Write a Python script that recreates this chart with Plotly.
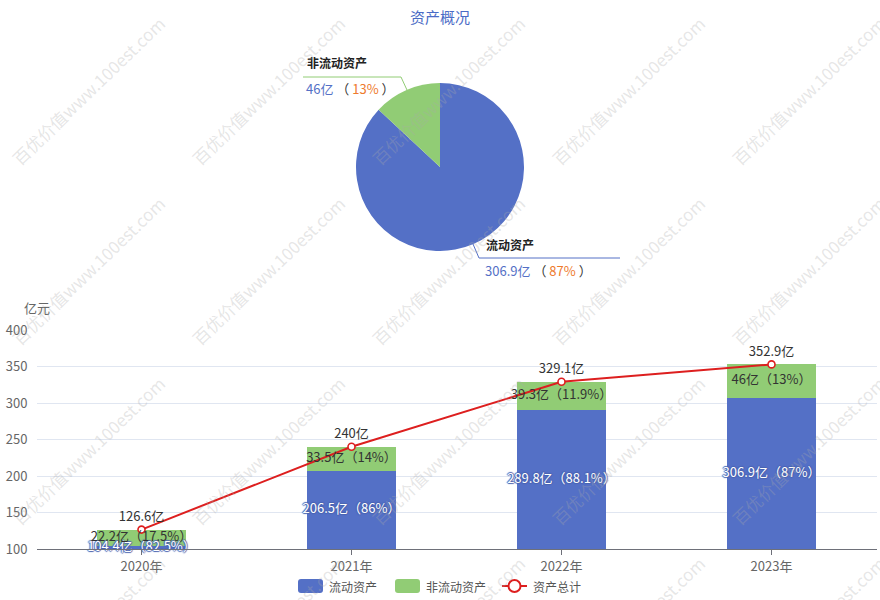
import plotly.graph_objects as go

# ---------------- data ----------------
years = ["2020年", "2021年", "2022年", "2023年"]
current_assets = [104.4, 206.5, 289.8, 306.9]      # 流动资产 (亿)
noncurrent_assets = [22.2, 33.5, 39.3, 46.0]       # 非流动资产 (亿)
total_assets = [126.6, 240.0, 329.1, 352.9]        # 资产总计 (亿)

pie_labels = ["流动资产", "非流动资产"]
pie_values = [306.9, 46.0]
pie_pcts = [87, 13]

y_ticks = [100, 150, 200, 250, 300, 350, 400]

# ---------------- styling ----------------
W, H = 880, 600
BLUE = "#5470c6"
GREEN = "#91cc75"
RED = "#dd1f1f"
ORANGE = "#ee7a2d"
FONT = "Noto Sans CJK SC, Microsoft YaHei, sans-serif"
Y_MIN, Y_MAX = 100, 400


def X(px):
    return px / W


def Y(py):
    return 1 - py / H


def fmt(v):
    return f"{round(v, 1):g}"


fig = go.Figure()

# ---------------- pie ----------------
fig.add_trace(go.Pie(
    labels=pie_labels, values=pie_values,
    sort=False, direction="clockwise", rotation=0,
    textinfo="none", showlegend=False,
    marker=dict(colors=[BLUE, GREEN], line=dict(width=0)),
    domain=dict(x=[X(356), X(524)], y=[Y(251), Y(83)]),
    hovertemplate="%{label}: %{value}亿 (%{percent})<extra></extra>",
))

# ---------------- bars ----------------
fig.add_trace(go.Bar(
    x=years, y=current_assets, name="流动资产",
    marker=dict(color=BLUE, line=dict(width=0)), showlegend=False,
))
fig.add_trace(go.Bar(
    x=years, y=noncurrent_assets, name="非流动资产",
    marker=dict(color=GREEN, line=dict(width=0)), showlegend=False,
))

# total line
fig.add_trace(go.Scatter(
    x=years, y=total_assets, name="资产总计",
    mode="lines+markers+text",
    line=dict(color=RED, width=2),
    marker=dict(symbol="circle", size=7, color="white", line=dict(color=RED, width=1.6)),
    text=[f"{fmt(v)}亿" for v in total_assets],
    textposition="top center",
    textfont=dict(family=FONT, size=13, color="#333"),
    cliponaxis=False, showlegend=False,
))

# bar labels (centred on the visible portion of each segment)
cur_pos, cur_txt, non_pos, non_txt = [], [], [], []
for c, n, t in zip(current_assets, noncurrent_assets, total_assets):
    cur_pos.append((max(0, Y_MIN) + c) / 2)
    cur_txt.append(f"{fmt(c)}亿（{fmt(c / t * 100)}%）")
    non_pos.append((max(c, Y_MIN) + c + n) / 2)
    non_txt.append(f"{fmt(n)}亿（{fmt(n / t * 100)}%）")

OUTLINE = ("1px 0px 1px #4a63b0, -1px 0px 1px #4a63b0, "
           "0px 1px 1px #4a63b0, 0px -1px 1px #4a63b0")
fig.add_trace(go.Scatter(
    x=years, y=cur_pos, mode="text", text=cur_txt,
    textfont=dict(family=FONT, size=13, color="white", shadow=OUTLINE),
    cliponaxis=False, showlegend=False, hoverinfo="skip",
))
fig.add_trace(go.Scatter(
    x=years, y=non_pos, mode="text", text=non_txt,
    textfont=dict(family=FONT, size=13, color="#333"),
    cliponaxis=False, showlegend=False, hoverinfo="skip",
))

# ---------------- axes ----------------
fig.update_layout(
    width=W, height=H,
    autosize=False,
    margin=dict(l=0, r=0, t=0, b=0, pad=0, autoexpand=False),
    paper_bgcolor="white", plot_bgcolor="white",
    barmode="stack", bargap=0.575,
    font=dict(family=FONT, size=13, color="#666"),
    showlegend=False,
    xaxis=dict(
        domain=[X(36.5), X(876.5)],
        showline=True, linecolor="#6e7079", linewidth=1,
        ticks="outside", ticklen=5, tickcolor="#6e7079",
        tickfont=dict(family=FONT, size=13, color="#666"),
        showgrid=False, fixedrange=True, automargin=False,
    ),
    yaxis=dict(
        domain=[Y(549), Y(330)],
        range=[Y_MIN, Y_MAX], tickvals=y_ticks,
        showgrid=True, gridcolor="#e0e6f1", gridwidth=1,
        zeroline=False, showline=False,
        tickfont=dict(family=FONT, size=13, color="#666"),
        ticks="", ticklabelstandoff=8, automargin=False,
    ),
)

annotations = []
shapes = []

# title
annotations.append(dict(
    x=X(440), y=Y(17), xref="paper", yref="paper", showarrow=False,
    text="资产概况", font=dict(family=FONT, size=15, color="#4a6bc6"),
    xanchor="center", yanchor="middle",
))
# y axis unit
annotations.append(dict(
    x=X(37), y=Y(307), xref="paper", yref="paper", showarrow=False,
    text="亿元", font=dict(family=FONT, size=13, color="#666"),
    xanchor="center", yanchor="middle",
))

# pie labels + leader lines
shapes.append(dict(
    type="path", xref="paper", yref="paper",
    path=f"M {X(407)} {Y(90)} L {X(401)} {Y(77)} L {X(303)} {Y(77)}",
    line=dict(color=GREEN, width=1),
))
shapes.append(dict(
    type="path", xref="paper", yref="paper",
    path=f"M {X(473)} {Y(244)} L {X(479)} {Y(258)} L {X(620)} {Y(258)}",
    line=dict(color=BLUE, width=1),
))
annotations.append(dict(
    x=X(305), y=Y(63), xref="paper", yref="paper", showarrow=False,
    text="<b>非流动资产</b>", font=dict(family=FONT, size=12, color="#222"),
    xanchor="left", yanchor="middle",
))
annotations.append(dict(
    x=X(304), y=Y(89), xref="paper", yref="paper", showarrow=False,
    text=f"<span style='color:{BLUE}'>{fmt(pie_values[1])}亿</span> "
         f"<span style='color:#333'>（</span><span style='color:{ORANGE}'> {pie_pcts[1]}% </span>"
         f"<span style='color:#333'>）</span>",
    font=dict(family=FONT, size=13), xanchor="left", yanchor="middle",
))
annotations.append(dict(
    x=X(484), y=Y(244), xref="paper", yref="paper", showarrow=False,
    text="<b>流动资产</b>", font=dict(family=FONT, size=12, color="#222"),
    xanchor="left", yanchor="middle",
))
annotations.append(dict(
    x=X(483), y=Y(270), xref="paper", yref="paper", showarrow=False,
    text=f"<span style='color:{BLUE}'>{fmt(pie_values[0])}亿</span> "
         f"<span style='color:#333'>（</span><span style='color:{ORANGE}'> {pie_pcts[0]}% </span>"
         f"<span style='color:#333'>）</span>",
    font=dict(family=FONT, size=13), xanchor="left", yanchor="middle",
))


# ---------------- custom legend ----------------
def rrect(x0, y0, x1, y1, r):
    return (f"M {X(x0 + r)} {Y(y0)} L {X(x1 - r)} {Y(y0)} Q {X(x1)} {Y(y0)} {X(x1)} {Y(y0 + r)} "
            f"L {X(x1)} {Y(y1 - r)} Q {X(x1)} {Y(y1)} {X(x1 - r)} {Y(y1)} "
            f"L {X(x0 + r)} {Y(y1)} Q {X(x0)} {Y(y1)} {X(x0)} {Y(y1 - r)} "
            f"L {X(x0)} {Y(y0 + r)} Q {X(x0)} {Y(y0)} {X(x0 + r)} {Y(y0)} Z")


LEG_Y = 586
shapes.append(dict(type="path", xref="paper", yref="paper",
                   path=rrect(298, LEG_Y - 7, 323, LEG_Y + 7, 3),
                   fillcolor=BLUE, line=dict(width=0)))
shapes.append(dict(type="path", xref="paper", yref="paper",
                   path=rrect(395, LEG_Y - 7, 420, LEG_Y + 7, 3),
                   fillcolor=GREEN, line=dict(width=0)))
shapes.append(dict(type="line", xref="paper", yref="paper",
                   x0=X(502), x1=X(527), y0=Y(LEG_Y), y1=Y(LEG_Y),
                   line=dict(color=RED, width=2)))
shapes.append(dict(type="circle", xref="paper", yref="paper",
                   x0=X(508.5), x1=X(520.5), y0=Y(LEG_Y - 6), y1=Y(LEG_Y + 6),
                   fillcolor="white", line=dict(color=RED, width=2)))
for lx, lt in [(327, "流动资产"), (424, "非流动资产"), (531, "资产总计")]:
    annotations.append(dict(
        x=X(lx), y=Y(LEG_Y), xref="paper", yref="paper", showarrow=False,
        text=lt, font=dict(family=FONT, size=12, color="#555"),
        xanchor="left", yanchor="middle",
    ))

# ---------------- watermark ----------------
for cy in [90, 270, 450, 630]:
    for cx in [88, 268, 448, 628, 808]:
        annotations.append(dict(
            x=X(cx), y=Y(cy), xref="paper", yref="paper", showarrow=False,
            text="百优价值www.100est.com", textangle=-44,
            font=dict(family=FONT, size=17, color="rgba(170,170,170,0.3)"),
            xanchor="center", yanchor="middle",
        ))

fig.update_layout(annotations=annotations, shapes=shapes)

fig.write_html(
    "out.html",
    config={"displayModeBar": False},
    post_script="document.body.style.margin='0';document.body.style.padding='0';"
                "document.body.style.overflow='hidden';",
)
